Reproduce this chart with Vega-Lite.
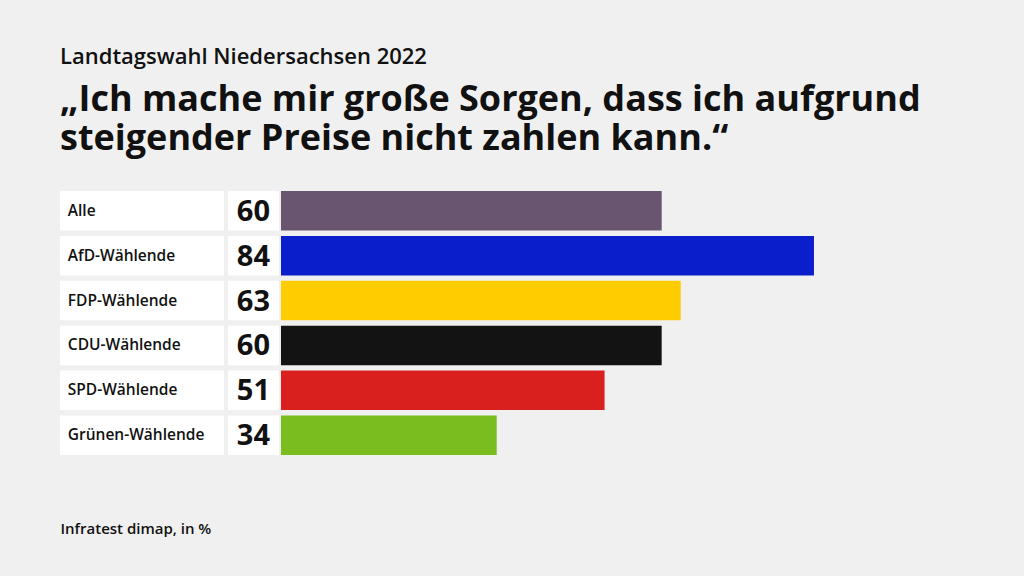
{
  "$schema": "https://vega.github.io/schema/vega-lite/v6.json",
  "width": 940,
  "height": 264,
  "autosize": {"type": "none"},
  "padding": {"left": 60, "top": 191, "right": 24, "bottom": 121},
  "background": "#f0f0f0",
  "config": {"view": {"stroke": null}},
  "title": {
    "text": "Landtagswahl Niedersachsen 2022",
    "subtitle": ["„Ich mache mir große Sorgen, dass ich aufgrund", "steigender Preise nicht zahlen kann.“"],
    "anchor": "start",
    "frame": "group",
    "font": "Open Sans",
    "fontSize": 22,
    "fontWeight": 600,
    "color": "#111111",
    "subtitleFont": "Open Sans",
    "subtitleFontSize": 36,
    "subtitleFontWeight": "bold",
    "subtitleColor": "#111111",
    "subtitleLineHeight": 39,
    "subtitlePadding": 14,
    "offset": 33
  },
  "data": {
    "values": [
      {"group": "Alle", "value": 60},
      {"group": "AfD-Wählende", "value": 84},
      {"group": "FDP-Wählende", "value": 63},
      {"group": "CDU-Wählende", "value": 60},
      {"group": "SPD-Wählende", "value": 51},
      {"group": "Grünen-Wählende", "value": 34}
    ]
  },
  "encoding": {
    "y": {
      "field": "group",
      "type": "nominal",
      "sort": null,
      "axis": null,
      "scale": {"paddingInner": 0.12, "paddingOuter": 0}
    }
  },
  "layer": [
    {
      "mark": {"type": "bar", "color": "#ffffff"},
      "encoding": {
        "x": {
          "datum": -34.83,
          "type": "quantitative",
          "scale": {"domain": [-34.83, 113.32], "nice": false, "zero": false},
          "axis": {
            "labels": false,
            "ticks": false,
            "domain": false,
            "grid": false,
            "title": "Infratest dimap, in %",
            "titleAnchor": "start",
            "titleAlign": "left",
            "titleFont": "Open Sans",
            "titleFontSize": 15,
            "titleFontWeight": 600,
            "titleColor": "#111111",
            "titlePadding": 66
          }
        },
        "x2": {"datum": -8.98}
      }
    },
    {
      "mark": {"type": "bar", "color": "#ffffff"},
      "encoding": {
        "x": {"datum": -8.35, "type": "quantitative"},
        "x2": {"datum": -0.32}
      }
    },
    {
      "mark": {"type": "bar"},
      "encoding": {
        "x": {"field": "value", "type": "quantitative"},
        "x2": {"datum": 0},
        "color": {
          "field": "group",
          "type": "nominal",
          "legend": null,
          "scale": {
            "domain": ["Alle", "AfD-Wählende", "FDP-Wählende", "CDU-Wählende", "SPD-Wählende", "Grünen-Wählende"],
            "range": ["#695570", "#0a1ecc", "#ffcc00", "#131313", "#d9201f", "#79bd1f"]
          }
        }
      }
    },
    {
      "mark": {"type": "text", "align": "left", "baseline": "middle", "font": "Open Sans", "fontSize": 15.5, "fontWeight": 600, "color": "#111111"},
      "encoding": {
        "x": {"datum": -33.6, "type": "quantitative"},
        "text": {"field": "group"}
      }
    },
    {
      "mark": {"type": "text", "align": "center", "baseline": "middle", "font": "Open Sans", "fontSize": 29, "fontWeight": "bold", "color": "#111111", "dy": 1},
      "encoding": {
        "x": {"datum": -4.35, "type": "quantitative"},
        "text": {"field": "value"}
      }
    }
  ]
}
